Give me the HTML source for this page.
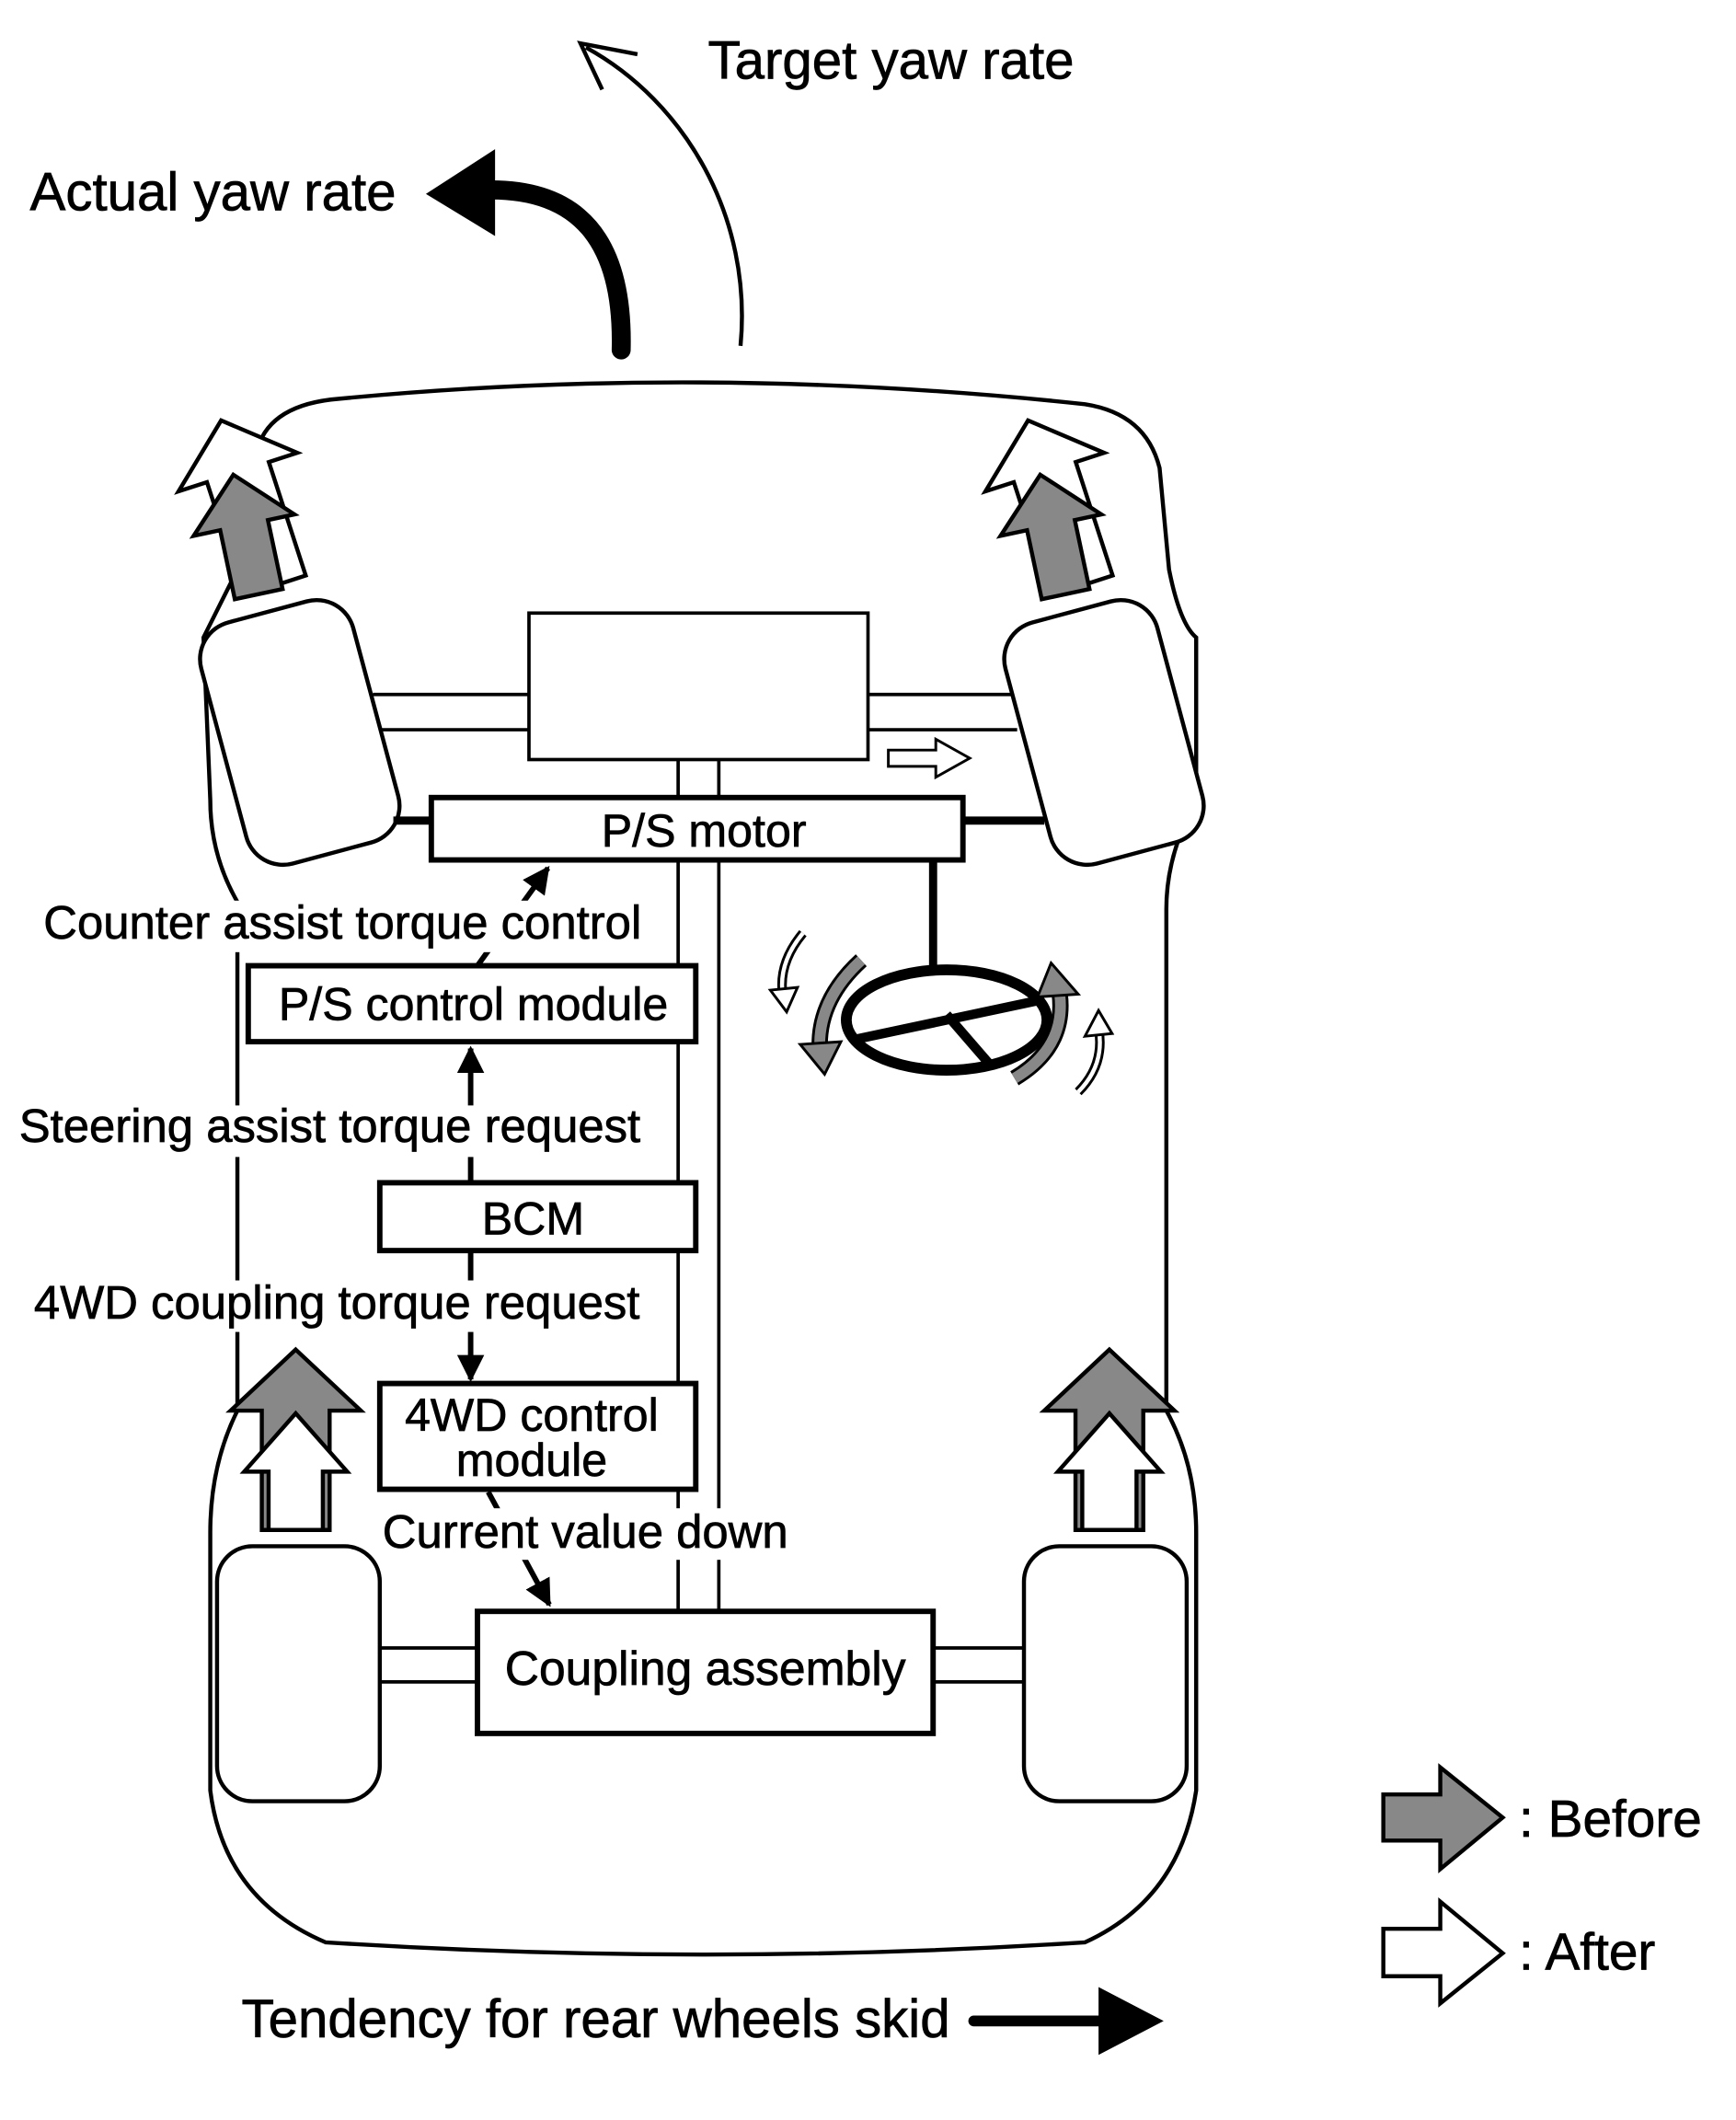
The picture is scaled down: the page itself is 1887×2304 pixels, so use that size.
<!DOCTYPE html>
<html><head><meta charset="utf-8"><style>
html,body{margin:0;padding:0;background:#fff;}
svg{display:block;}
text{font-family:"Liberation Sans",Arial,sans-serif;fill:#000;stroke:#000;stroke-width:0.5;}
</style></head><body>
<svg width="1887" height="2304" viewBox="0 0 1280 1563" xmlns="http://www.w3.org/2000/svg">
<defs>
<marker id="ah" viewBox="0 0 10 10" refX="9" refY="5" markerWidth="5" markerHeight="5" orient="auto"><path d="M0,0 L10,5 L0,10 z" fill="#000"/></marker>
</defs>
<path d="M190,330 Q200,298 250,294 Q520,268 800,298 Q845,305 855,345 L862,420 Q870,460 882,470 L882,590 Q860,630 860,670 L860,1040 Q882,1080 882,1130 L882,1320 Q870,1400 800,1432 Q520,1450 240,1432 Q165,1400 155,1320 L155,1130 Q155,1080 175,1040 L175,665 Q155,630 155,590 L150,470 Q165,440 175,420 Z" fill="none" stroke="#000" stroke-width="3"/>
<g stroke="#000" stroke-width="2.5" fill="none">
<line x1="275" y1="512" x2="390" y2="512"/><line x1="275" y1="538" x2="390" y2="538"/>
<line x1="640" y1="512" x2="750" y2="512"/><line x1="640" y1="538" x2="750" y2="538"/>
<line x1="280" y1="1215" x2="352" y2="1215"/><line x1="280" y1="1240" x2="352" y2="1240"/>
<line x1="688" y1="1215" x2="755" y2="1215"/><line x1="688" y1="1240" x2="755" y2="1240"/>
<line x1="500" y1="560" x2="500" y2="1188"/><line x1="530" y1="560" x2="530" y2="1188"/>
<rect x="390" y="452" width="250" height="108" fill="#fff"/>
</g>
<g stroke="#000" stroke-width="3" fill="#fff">
<rect x="-58" y="-92" width="116" height="184" rx="28" transform="translate(221,540) rotate(-15)"/>
<rect x="-58" y="-92" width="116" height="184" rx="28" transform="translate(814,540) rotate(-15)"/>
<rect x="160" y="1140" width="120" height="188" rx="26"/>
<rect x="755" y="1140" width="120" height="188" rx="26"/>
</g>
<polygon points="655,553 690,553 690,545 715,559 690,573 690,565 655,565" fill="#fff" stroke="#000" stroke-width="2"/>
<line x1="290" y1="605" x2="318" y2="605" stroke="#000" stroke-width="6"/>
<line x1="710" y1="605" x2="770" y2="605" stroke="#000" stroke-width="6"/>
<line x1="688" y1="634" x2="688" y2="718" stroke="#000" stroke-width="6"/>
<rect x="318" y="588" width="392" height="46" fill="#fff" stroke="#000" stroke-width="4"/>
<text x="519" y="624" font-size="34" text-anchor="middle">P/S motor</text>
<ellipse cx="698" cy="752" rx="74" ry="37" fill="none" stroke="#000" stroke-width="8"/>
<line x1="628" y1="752" x2="768" y2="752" stroke="#000" stroke-width="7" transform="rotate(-12 698 752)"/>
<line x1="698" y1="748" x2="730" y2="785" stroke="#000" stroke-width="7"/>
<path d="M635,708 Q600,740 605,780" fill="none" stroke="#000" stroke-width="12"/>
<path d="M635,708 Q600,740 605,780" fill="none" stroke="#888" stroke-width="8"/>
<polygon points="590,770 620,768 608,792" fill="#888" stroke="#000" stroke-width="2"/>
<path d="M748,795 Q790,770 780,725" fill="none" stroke="#000" stroke-width="12"/>
<path d="M748,795 Q790,770 780,725" fill="none" stroke="#888" stroke-width="8"/>
<polygon points="765,735 795,733 775,710" fill="#888" stroke="#000" stroke-width="2"/>
<path d="M592,688 Q572,712 578,738" fill="none" stroke="#000" stroke-width="7"/>
<path d="M592,688 Q572,712 578,738" fill="none" stroke="#fff" stroke-width="3"/>
<polygon points="568,730 588,728 580,746" fill="#fff" stroke="#000" stroke-width="2"/>
<path d="M795,805 Q815,785 810,758" fill="none" stroke="#000" stroke-width="7"/>
<path d="M795,805 Q815,785 810,758" fill="none" stroke="#fff" stroke-width="3"/>
<polygon points="800,764 820,762 810,745" fill="#fff" stroke="#000" stroke-width="2"/>
<line x1="352" y1="712" x2="404" y2="640" stroke="#000" stroke-width="4" marker-end="url(#ah)"/>
<rect x="30" y="664" width="450" height="38" fill="#fff"/>
<text x="32" y="692" font-size="34.5">Counter assist torque control</text>
<rect x="183" y="712" width="330" height="56" fill="#fff" stroke="#000" stroke-width="4"/>
<text x="349" y="752" font-size="34" text-anchor="middle">P/S control module</text>
<line x1="347" y1="872" x2="347" y2="773" stroke="#000" stroke-width="4" marker-end="url(#ah)"/>
<rect x="12" y="815" width="468" height="38" fill="#fff"/>
<text x="14" y="842" font-size="34.5">Steering assist torque request</text>
<rect x="280" y="872" width="233" height="50" fill="#fff" stroke="#000" stroke-width="4"/>
<text x="393" y="910" font-size="34" text-anchor="middle">BCM</text>
<line x1="347" y1="922" x2="347" y2="1017" stroke="#000" stroke-width="4" marker-end="url(#ah)"/>
<rect x="22" y="944" width="458" height="38" fill="#fff"/>
<text x="25" y="972" font-size="34.5">4WD coupling torque request</text>
<g stroke="#000" stroke-width="3" stroke-linejoin="miter">
<polygon points="218,995 266,1040 243,1040 243,1128 193,1128 193,1040 170,1040" fill="#888"/>
<polygon points="218,1042 256,1085 238,1085 238,1128 198,1128 198,1085 180,1085" fill="#fff"/>
<polygon points="818,995 866,1040 843,1040 843,1128 793,1128 793,1040 770,1040" fill="#888"/>
<polygon points="818,1042 856,1085 838,1085 838,1128 798,1128 798,1085 780,1085" fill="#fff"/>
<g transform="translate(163,310) rotate(-18)"><polygon points="0,0 46,40 24,40 24,128 -24,128 -24,40 -46,40" fill="#fff"/></g>
<g transform="translate(172,350) rotate(-12)"><polygon points="0,0 38,38 18,38 18,90 -18,90 -18,38 -38,38" fill="#888"/></g>
<g transform="translate(758,310) rotate(-18)"><polygon points="0,0 46,40 24,40 24,128 -24,128 -24,40 -46,40" fill="#fff"/></g>
<g transform="translate(767,350) rotate(-12)"><polygon points="0,0 38,38 18,38 18,90 -18,90 -18,38 -38,38" fill="#888"/></g>
<polygon points="1020,1323 1062,1323 1062,1303 1108,1340 1062,1378 1062,1357 1020,1357" fill="#888"/>
<polygon points="1020,1422 1062,1422 1062,1402 1108,1440 1062,1477 1062,1457 1020,1457" fill="#fff"/>
</g>
<text x="1120" y="1354" font-size="38.5">: Before</text>
<text x="1120" y="1452" font-size="38.5">: After</text>
<rect x="280" y="1020" width="233" height="78" fill="#fff" stroke="#000" stroke-width="4"/>
<text x="392" y="1055" font-size="34" text-anchor="middle">4WD control</text>
<text x="392" y="1088" font-size="34" text-anchor="middle">module</text>
<line x1="360" y1="1100" x2="405" y2="1183" stroke="#000" stroke-width="4" marker-end="url(#ah)"/>
<rect x="280" y="1112" width="304" height="38" fill="#fff"/>
<text x="282" y="1141" font-size="34.5">Current value down</text>
<rect x="352" y="1188" width="336" height="90" fill="#fff" stroke="#000" stroke-width="4"/>
<text x="520" y="1242" font-size="35" text-anchor="middle">Coupling assembly</text>
<path d="M458,258 C460,175 425,140 362,140" fill="none" stroke="#000" stroke-width="14" stroke-linecap="round"/>
<polygon points="314,143 365,110 365,174" fill="#000"/>
<path d="M546,255 C555,160 505,75 432,35" fill="none" stroke="#000" stroke-width="3"/>
<path d="M470,40 L428,32 L444,66" fill="none" stroke="#000" stroke-width="3"/>
<text x="522" y="58" font-size="39.5">Target yaw rate</text>
<text x="22" y="155" font-size="39.5">Actual yaw rate</text>
<text x="178" y="1502" font-size="39.5">Tendency for rear wheels skid</text>
<line x1="718" y1="1490" x2="815" y2="1490" stroke="#000" stroke-width="8" stroke-linecap="round"/>
<polygon points="810,1465 858,1490 810,1515" fill="#000"/>
</svg>
</body></html>
